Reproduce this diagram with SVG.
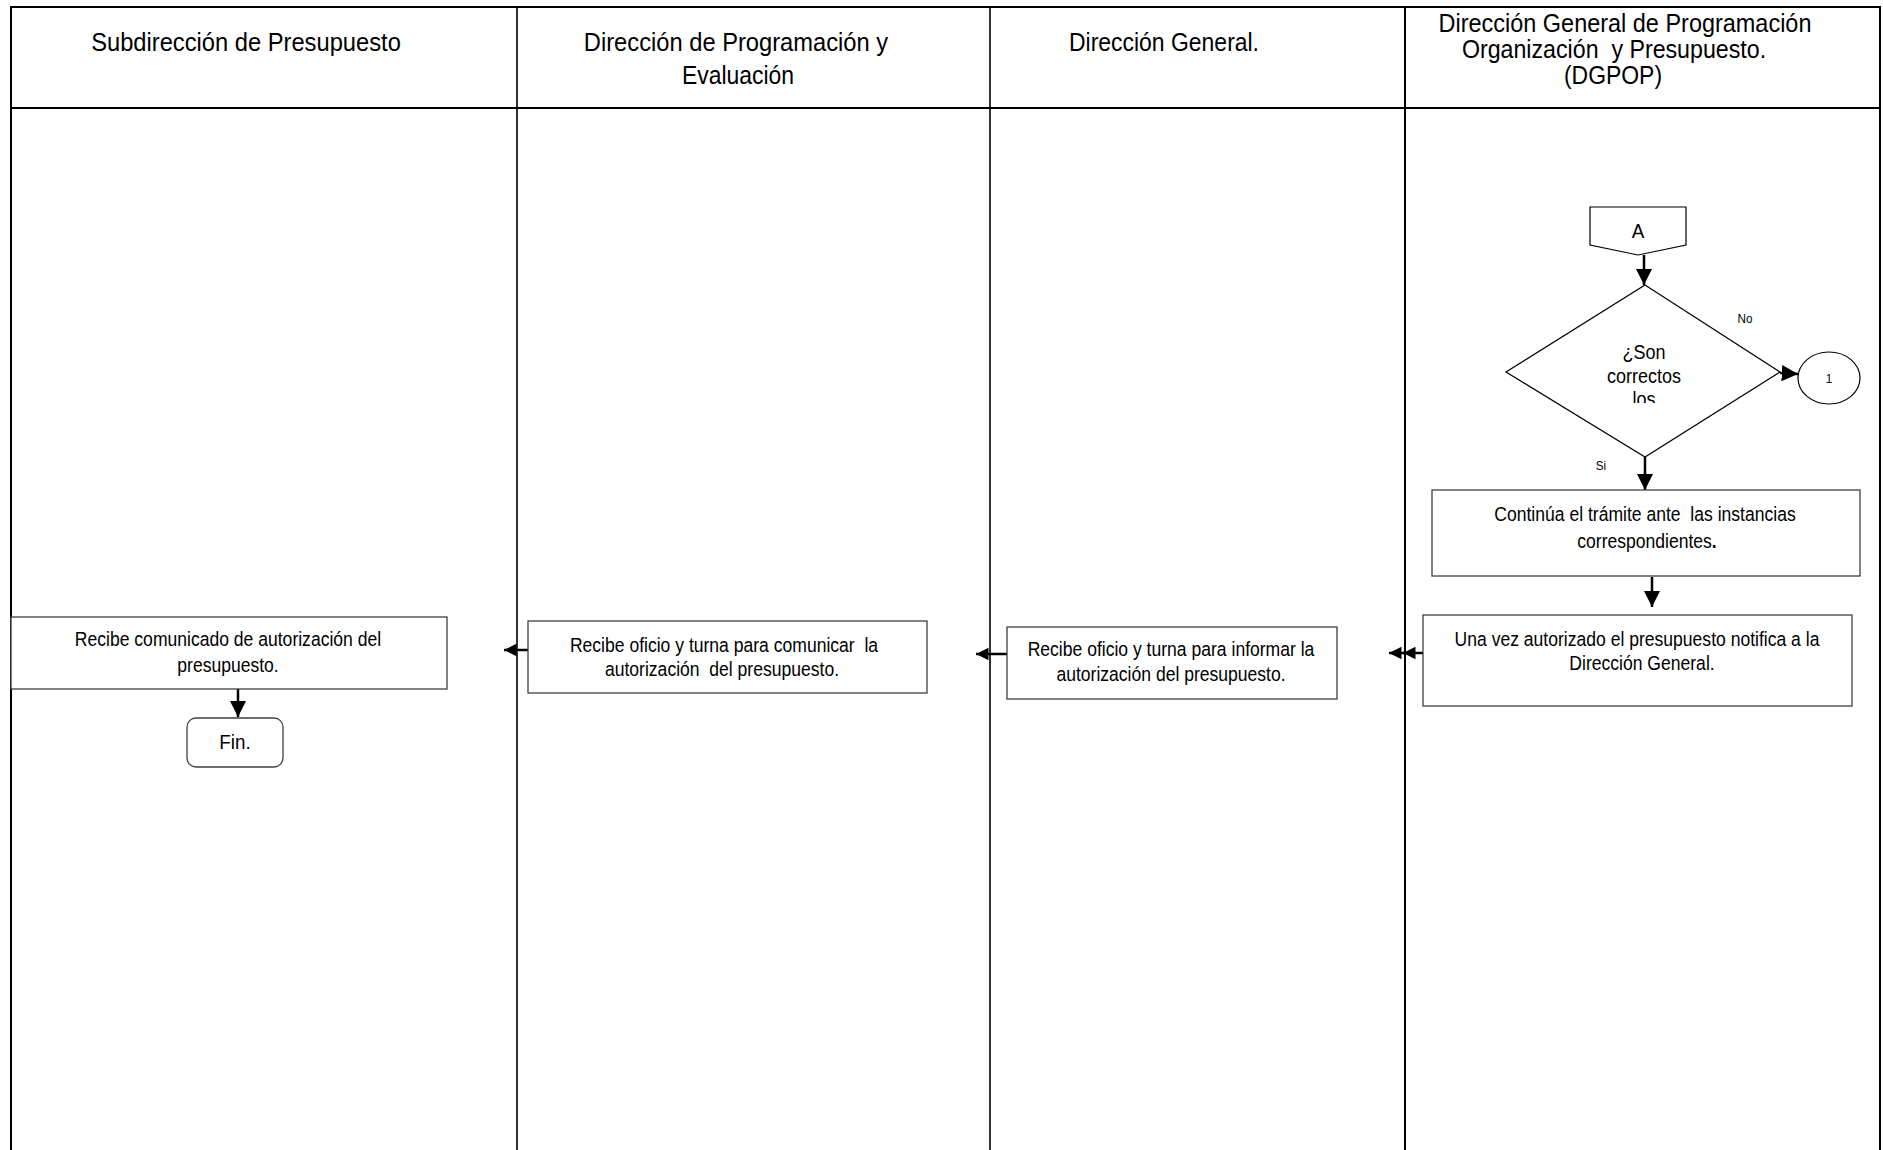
<svg xmlns="http://www.w3.org/2000/svg" width="1883" height="1150" viewBox="0 0 1883 1150">
<style>
.hdr{font-family:"Liberation Sans",Arial,sans-serif;font-size:25.5px;fill:#000;text-anchor:middle;white-space:pre}
.txt{font-family:"Liberation Sans",Arial,sans-serif;font-size:19.5px;fill:#000;text-anchor:middle;white-space:pre}
.sm{font-family:"Liberation Sans",Arial,sans-serif;font-size:13px;fill:#000;text-anchor:middle}
.box{fill:#fff;stroke:#404040;stroke-width:1.3}
.shape{fill:#fff;stroke:#000;stroke-width:1.2}
.grid{stroke:#000;fill:none}
.con{stroke:#000;stroke-width:2.5;fill:none}
</style>
<defs>
<marker id="ah" viewBox="0 0 10 10" refX="10" refY="5" markerWidth="6.5" markerHeight="6.5" markerUnits="strokeWidth" orient="auto">
<path d="M0,0 L10,5 L0,10 z" fill="#000"/>
</marker>
<marker id="ahs" viewBox="0 0 10 10" refX="10" refY="5" markerWidth="5" markerHeight="5" markerUnits="strokeWidth" orient="auto">
<path d="M0,0 L10,5 L0,10 z" fill="#000"/>
</marker>
<clipPath id="dclip"><rect x="1570" y="330" width="150" height="73"/></clipPath>
</defs>
<rect width="1883" height="1150" fill="#fff"/>
<g id="lanes">
<path class="grid" stroke-width="2" d="M11,1150 V7 H1880 V1150 M11,108 H1880"/>
<path class="grid" stroke-width="1.6" d="M517,7 V1150 M990,7 V1150"/>
<path class="grid" stroke-width="2" d="M1405,7 V1150"/>
<text class="hdr" transform="translate(246,51) scale(0.93,1)">Subdirección de Presupuesto</text>
<text class="hdr" transform="translate(736,51) scale(0.93,1)">Dirección de Programación y</text>
<text class="hdr" transform="translate(738,84) scale(0.9,1)">Evaluación</text>
<text class="hdr" transform="translate(1164,51) scale(0.9,1)">Dirección General.</text>
<text class="hdr" transform="translate(1625,32) scale(0.92,1)">Dirección General de Programación</text>
<text class="hdr" transform="translate(1614,58) scale(0.91,1)">Organización  y Presupuesto.</text>
<text class="hdr" transform="translate(1613,84) scale(0.9,1)">(DGPOP)</text>
</g>
<g id="connectors">
<line class="con" x1="1644" y1="255" x2="1644" y2="285" marker-end="url(#ah)"/>
<line class="con" x1="1780" y1="373" x2="1798" y2="374" marker-end="url(#ah)"/>
<line class="con" x1="1645" y1="457" x2="1645" y2="490" marker-end="url(#ah)"/>
<line class="con" x1="1652" y1="577" x2="1652" y2="607" marker-end="url(#ah)"/>
<line class="con" x1="1423" y1="653" x2="1403" y2="653" marker-end="url(#ahs)"/>
<line class="con" x1="1405" y1="653" x2="1389" y2="653" marker-end="url(#ahs)"/>
<line class="con" x1="1007" y1="654" x2="976" y2="654" marker-end="url(#ahs)"/>
<line class="con" x1="528" y1="650" x2="504" y2="650" marker-end="url(#ahs)"/>
<line class="con" x1="238" y1="689" x2="238" y2="717" marker-end="url(#ah)"/>
<text class="sm" transform="translate(1745,323) scale(0.9,1)">No</text>
<text class="sm" transform="translate(1601,470) scale(0.9,1)">Si</text>
</g>
<g id="n_A">
<path class="shape" d="M1590,207 H1686 V245 L1638,255 L1590,245 Z"/>
<text class="txt" transform="translate(1638,238) scale(0.9,1)" style="font-size:21px">A</text>
</g>
<g id="n_decision">
<path class="shape" d="M1645,285 L1780,372 L1645,457 L1506,372 Z"/>
<g clip-path="url(#dclip)">
<text class="txt" transform="translate(1644,359) scale(0.9,1)" style="font-size:20px">¿Son</text>
<text class="txt" transform="translate(1644,383) scale(0.9,1)" style="font-size:20px">correctos</text>
<text class="txt" transform="translate(1644,406) scale(0.9,1)" style="font-size:20px">los</text>
</g>
</g>
<g id="n_1">
<ellipse class="shape" cx="1829" cy="378" rx="31" ry="26"/>
<text class="sm" transform="translate(1829,383) scale(0.9,1)">1</text>
</g>
<g id="n_continua">
<rect class="box" x="1432" y="490" width="428" height="86"/>
<text class="txt" transform="translate(1645,521) scale(0.9,1)">Continúa el trámite ante  las instancias</text>
<text class="txt" transform="translate(1647,548) scale(0.9,1)">correspondientes<tspan font-weight="bold">.</tspan></text>
</g>
<g id="n_notifica">
<rect class="box" x="1423" y="615" width="429" height="91"/>
<text class="txt" transform="translate(1637,646) scale(0.9,1)">Una vez autorizado el presupuesto notifica a la</text>
<text class="txt" transform="translate(1642,670) scale(0.9,1)">Dirección General.</text>
</g>
<g id="n_dg">
<rect class="box" x="1007" y="627" width="330" height="72"/>
<text class="txt" transform="translate(1171,656) scale(0.9,1)">Recibe oficio y turna para informar la</text>
<text class="txt" transform="translate(1171,681) scale(0.9,1)">autorización del presupuesto.</text>
</g>
<g id="n_dpe">
<rect class="box" x="528" y="621" width="399" height="72"/>
<text class="txt" transform="translate(724,652) scale(0.9,1)">Recibe oficio y turna para comunicar  la</text>
<text class="txt" transform="translate(722,676) scale(0.9,1)">autorización  del presupuesto.</text>
</g>
<g id="n_sub">
<rect class="box" x="11" y="617" width="436" height="72"/>
<text class="txt" transform="translate(228,646) scale(0.9,1)">Recibe comunicado de autorización del</text>
<text class="txt" transform="translate(228,672) scale(0.9,1)">presupuesto.</text>
</g>
<g id="n_fin">
<rect class="box" x="187" y="718" width="96" height="49" rx="9"/>
<text class="txt" transform="translate(235,749) scale(0.9,1)" style="font-size:21px">Fin.</text>
</g>
</svg>
